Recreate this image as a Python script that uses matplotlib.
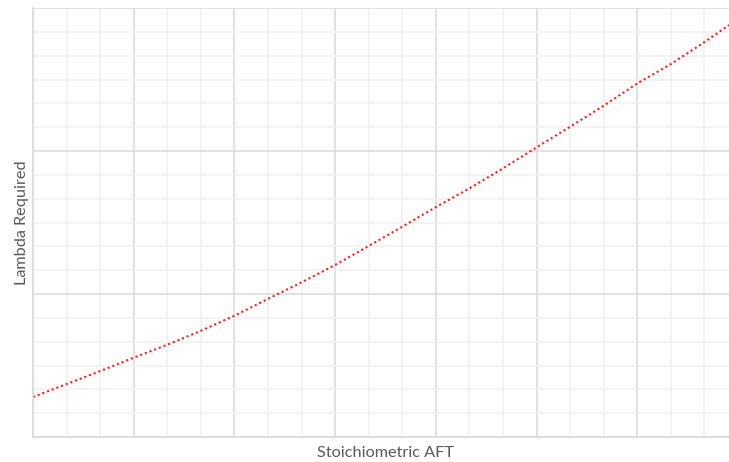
import numpy as np
import matplotlib.pyplot as plt
from matplotlib.ticker import MultipleLocator

# curve (x and y in major grid units)
aft = [0, 0.333, 0.667, 1.0, 1.333, 1.667, 2.0, 2.333, 2.667, 3.0, 3.333,
       3.667, 4.0, 4.333, 4.667, 5.0, 5.333, 5.667, 6.0, 6.333, 6.667, 6.91]
lambda_req = [0.280, 0.370, 0.461, 0.555, 0.645, 0.743, 0.848, 0.966, 1.082,
              1.203, 1.336, 1.471, 1.608, 1.739, 1.879, 2.026, 2.170, 2.317,
              2.473, 2.608, 2.762, 2.881]

plt.rcParams['font.family'] = ['Lato', 'DejaVu Sans']

fig = plt.figure(figsize=(7.29, 4.62), dpi=100)
ax = fig.add_axes([33 / 729, 25 / 462, 1 - 33 / 729, 429 / 462])

ax.plot(aft, lambda_req, color="#ff1a1a", linewidth=1.5,
        linestyle=(0, (1.0, 1.4)), dash_capstyle="butt")

ax.set_xlim(0, 6.91)
ax.set_ylim(0, 3)
ax.xaxis.set_major_locator(MultipleLocator(1))
ax.xaxis.set_minor_locator(MultipleLocator(1 / 3))
ax.yaxis.set_major_locator(MultipleLocator(1))
ax.yaxis.set_minor_locator(MultipleLocator(1 / 6))
ax.grid(which="major", color="#d9d9d9", linewidth=1.1)
ax.grid(which="minor", color="#f0f0f0", linewidth=1.1)
ax.set_axisbelow(True)
ax.tick_params(which="both", length=0, labelbottom=False, labelleft=False)

for side in ["top", "right"]:
    ax.spines[side].set_visible(False)
for side in ["left", "bottom"]:
    ax.spines[side].set_color("#d9d9d9")
    ax.spines[side].set_linewidth(1.2)

ax.set_xlabel("Stoichiometric AFT", fontsize=11.7, color="#595959")
ax.set_ylabel("Lambda Required", fontsize=11.7, color="#595959", labelpad=3)
# axis title sits a little right of the axes centre in the reference
ax.xaxis.set_label_coords(0.506, -0.02)

fig.savefig("out.png", dpi=100)
